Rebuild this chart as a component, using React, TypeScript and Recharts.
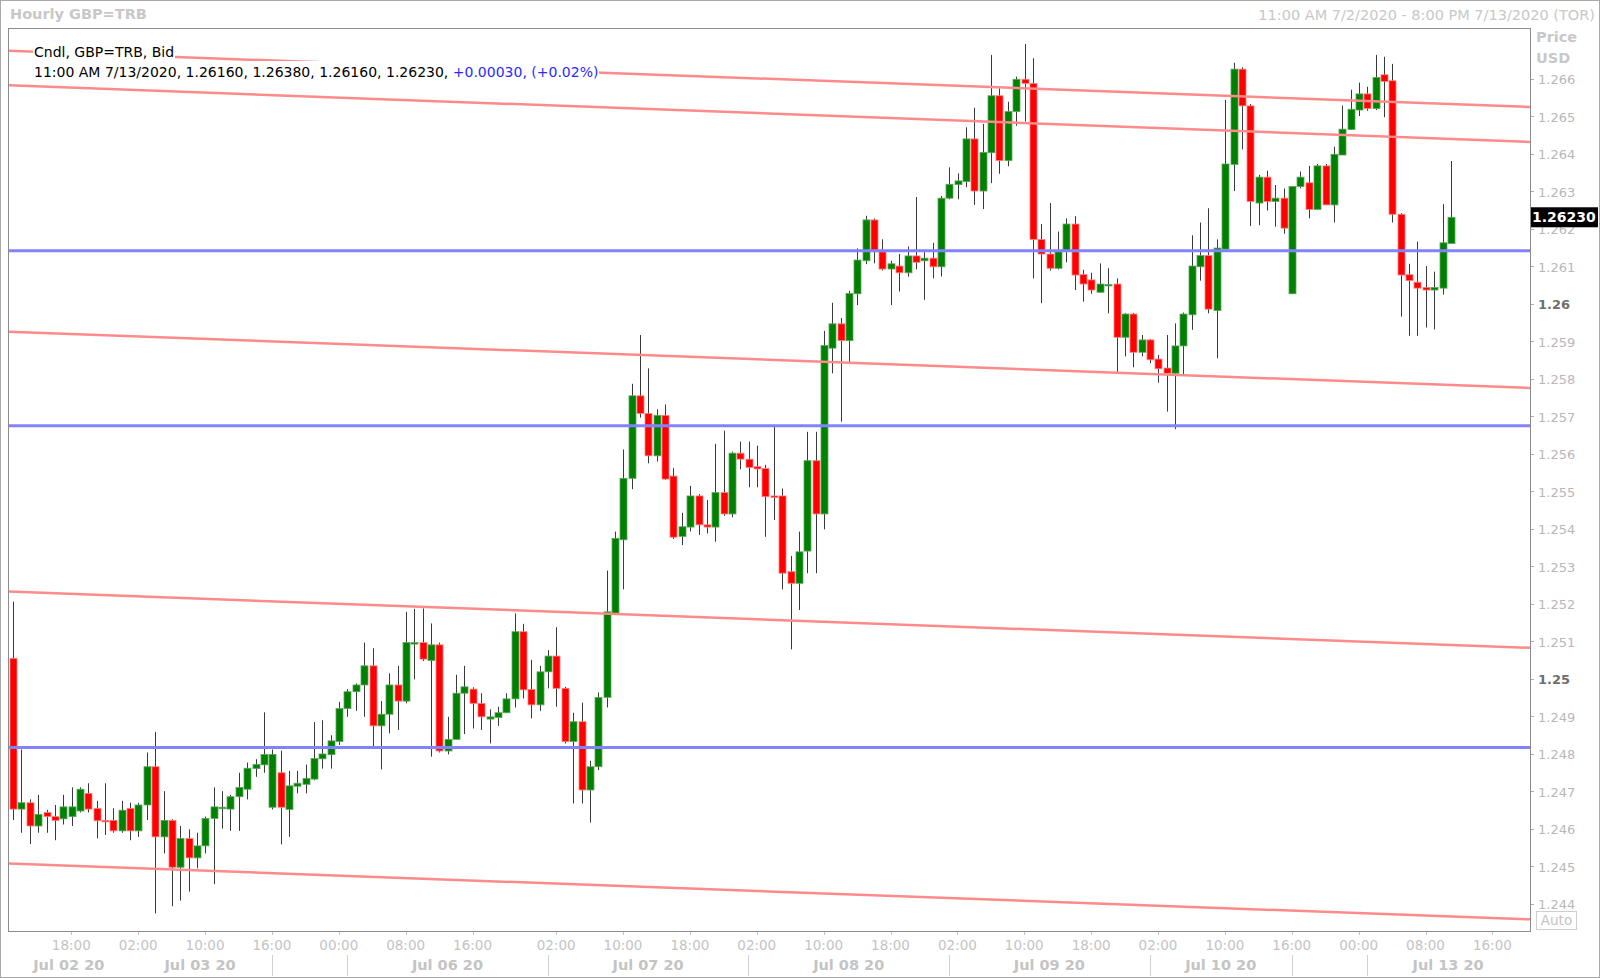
import React from 'react';
import {
  ComposedChart,
  Bar,
  XAxis,
  YAxis,
  ReferenceLine
} from 'recharts';

// hourly GBP=TRB candles, Jul 2 11:00 -> Jul 13 11:00 (trading hours only)
const openPrices = [
  1.25054, 1.24652, 1.24669, 1.24607, 1.24643, 1.24632, 1.24626, 1.24632, 1.24647, 1.24694,
  1.24654, 1.24622, 1.24622, 1.24594, 1.24654, 1.24594, 1.24663, 1.24765, 1.24578, 1.24622,
  1.24497, 1.24574, 1.24522, 1.24554, 1.24627, 1.24657, 1.24652, 1.24685, 1.24705, 1.24760,
  1.24770, 1.24657, 1.24749, 1.24651, 1.24713, 1.24718, 1.24732, 1.24786, 1.24797, 1.24832,
  1.24920, 1.24965, 1.24983, 1.25034, 1.24874, 1.24905, 1.24983, 1.24940, 1.25096, 1.25096,
  1.25048, 1.25090, 1.24807, 1.24838, 1.24961, 1.24972, 1.24934, 1.24892, 1.24896, 1.24909,
  1.24946, 1.25125, 1.24971, 1.24930, 1.25018, 1.25060, 1.24974, 1.24832, 1.24885, 1.24703,
  1.24765, 1.24950, 1.25174, 1.25370, 1.25534, 1.25754, 1.25707, 1.25594, 1.25702, 1.25540,
  1.25379, 1.25404, 1.25487, 1.25410, 1.25404, 1.25496, 1.25439, 1.25601, 1.25585, 1.25565,
  1.25560, 1.25487, 1.25487, 1.25285, 1.25254, 1.25340, 1.25581, 1.25439, 1.25881, 1.25946,
  1.25901, 1.26026, 1.26114, 1.26223, 1.26138, 1.26092, 1.26100, 1.26082, 1.26127, 1.26114,
  1.26121, 1.26098, 1.26281, 1.26317, 1.26325, 1.26439, 1.26300, 1.26402, 1.26554, 1.26381,
  1.26512, 1.26598, 1.26587, 1.26171, 1.26132, 1.26094, 1.26139, 1.26212, 1.26077, 1.26063,
  1.26030, 1.26051, 1.26052, 1.25910, 1.25972, 1.25870, 1.25903, 1.25852, 1.25828, 1.25814,
  1.25887, 1.25970, 1.26098, 1.26128, 1.25981, 1.26145, 1.26371, 1.26625, 1.26527, 1.26268,
  1.26337, 1.26272, 1.26281, 1.26026, 1.26312, 1.26322, 1.26251, 1.26367, 1.26263, 1.26396,
  1.26464, 1.26516, 1.26559, 1.26520, 1.26610, 1.26594, 1.26238, 1.26077, 1.26057, 1.26043,
  1.26036, 1.26041, 1.26160
];

const highPrices = [
  1.25205, 1.24811, 1.24678, 1.24690, 1.24650, 1.24663, 1.24690, 1.24710, 1.24710, 1.24721,
  1.24674, 1.24721, 1.24654, 1.24674, 1.24669, 1.24669, 1.24803, 1.24858, 1.24700, 1.24625,
  1.24607, 1.24598, 1.24589, 1.24632, 1.24710, 1.24700, 1.24690, 1.24749, 1.24776, 1.24785,
  1.24910, 1.24811, 1.24808, 1.24754, 1.24754, 1.24771, 1.24884, 1.24889, 1.24849, 1.24938,
  1.24972, 1.24987, 1.25096, 1.25081, 1.24940, 1.25014, 1.25034, 1.25178, 1.25186, 1.25187,
  1.25147, 1.25096, 1.24898, 1.25010, 1.25034, 1.24977, 1.24961, 1.24918, 1.24925, 1.24961,
  1.25174, 1.25146, 1.25050, 1.25034, 1.25076, 1.25137, 1.24978, 1.24909, 1.24936, 1.24781,
  1.24963, 1.25288, 1.25392, 1.25611, 1.25786, 1.25916, 1.25827, 1.25718, 1.25731, 1.25561,
  1.25442, 1.25514, 1.25492, 1.25476, 1.25626, 1.25661, 1.25605, 1.25632, 1.25632, 1.25621,
  1.25570, 1.25672, 1.25507, 1.25327, 1.25392, 1.25658, 1.25658, 1.25927, 1.26002, 1.25961,
  1.26034, 1.26147, 1.26234, 1.26227, 1.26171, 1.26114, 1.26132, 1.26152, 1.26284, 1.26138,
  1.26162, 1.26287, 1.26363, 1.26347, 1.26470, 1.26522, 1.26479, 1.26663, 1.26574, 1.26538,
  1.26605, 1.26692, 1.26654, 1.26212, 1.26268, 1.26192, 1.26227, 1.26233, 1.26090, 1.26082,
  1.26107, 1.26094, 1.26067, 1.25974, 1.25975, 1.25916, 1.25905, 1.25863, 1.25916, 1.25947,
  1.25976, 1.26182, 1.26216, 1.26254, 1.26171, 1.26543, 1.26642, 1.26630, 1.26532, 1.26343,
  1.26354, 1.26316, 1.26307, 1.26312, 1.26352, 1.26367, 1.26372, 1.26372, 1.26418, 1.26528,
  1.26570, 1.26589, 1.26578, 1.26663, 1.26658, 1.26639, 1.26241, 1.26106, 1.26165, 1.26100,
  1.26085, 1.26265, 1.26380
];

const lowPrices = [
  1.24623, 1.24589, 1.24559, 1.24589, 1.24589, 1.24569, 1.24611, 1.24607, 1.24643, 1.24643,
  1.24574, 1.24583, 1.24589, 1.24589, 1.24569, 1.24578, 1.24623, 1.24374, 1.24534, 1.24393,
  1.24408, 1.24432, 1.24494, 1.24534, 1.24452, 1.24600, 1.24594, 1.24594, 1.24678, 1.24738,
  1.24749, 1.24651, 1.24558, 1.24578, 1.24694, 1.24694, 1.24729, 1.24760, 1.24760, 1.24823,
  1.24898, 1.24914, 1.24898, 1.24818, 1.24758, 1.24854, 1.24863, 1.24934, 1.24998, 1.25047,
  1.24792, 1.24803, 1.24798, 1.24838, 1.24852, 1.24867, 1.24863, 1.24827, 1.24874, 1.24908,
  1.24923, 1.24947, 1.24894, 1.24914, 1.24974, 1.24925, 1.24827, 1.24667, 1.24667, 1.24616,
  1.24756, 1.24923, 1.25174, 1.25238, 1.25505, 1.25696, 1.25574, 1.25579, 1.25530, 1.25372,
  1.25356, 1.25392, 1.25383, 1.25387, 1.25365, 1.25434, 1.25430, 1.25558, 1.25510, 1.25510,
  1.25378, 1.25423, 1.25238, 1.25078, 1.25183, 1.25281, 1.25281, 1.25398, 1.25814, 1.25685,
  1.25841, 1.25996, 1.26105, 1.26107, 1.26088, 1.25996, 1.26032, 1.26072, 1.26091, 1.26010,
  1.26067, 1.26072, 1.26278, 1.26278, 1.26310, 1.26263, 1.26252, 1.26321, 1.26346, 1.26366,
  1.26474, 1.26485, 1.26067, 1.26001, 1.26088, 1.26091, 1.26110, 1.26036, 1.26005, 1.26026,
  1.26030, 1.25974, 1.25818, 1.25859, 1.25830, 1.25859, 1.25841, 1.25789, 1.25712, 1.25665,
  1.25810, 1.25930, 1.26061, 1.25974, 1.25854, 1.26143, 1.26300, 1.26411, 1.26207, 1.26209,
  1.26248, 1.26205, 1.26186, 1.26026, 1.26307, 1.26227, 1.26251, 1.26263, 1.26216, 1.26396,
  1.26463, 1.26500, 1.26514, 1.26516, 1.26497, 1.26216, 1.25965, 1.25914, 1.25914, 1.25936,
  1.25931, 1.26024, 1.26160
];

const closePrices = [
  1.24652, 1.24669, 1.24607, 1.24638, 1.24632, 1.24622, 1.24658, 1.24658, 1.24705, 1.24652,
  1.24621, 1.24621, 1.24594, 1.24649, 1.24594, 1.24663, 1.24765, 1.24578, 1.24622, 1.24497,
  1.24574, 1.24522, 1.24554, 1.24627, 1.24658, 1.24657, 1.24685, 1.24710, 1.24761, 1.24771,
  1.24798, 1.24798, 1.24657, 1.24714, 1.24721, 1.24734, 1.24787, 1.24799, 1.24834, 1.24920,
  1.24965, 1.24983, 1.25034, 1.24874, 1.24905, 1.24983, 1.24940, 1.25096, 1.25096, 1.25052,
  1.25090, 1.24807, 1.24838, 1.24961, 1.24978, 1.24934, 1.24898, 1.24898, 1.24909, 1.24946,
  1.25125, 1.24970, 1.24930, 1.25018, 1.25060, 1.24974, 1.24832, 1.24885, 1.24703, 1.24765,
  1.24950, 1.25178, 1.25374, 1.25534, 1.25754, 1.25707, 1.25594, 1.25702, 1.25532, 1.25377,
  1.25405, 1.25487, 1.25410, 1.25404, 1.25496, 1.25439, 1.25601, 1.25585, 1.25563, 1.25559,
  1.25485, 1.25486, 1.25281, 1.25254, 1.25338, 1.25581, 1.25439, 1.25888, 1.25946, 1.25901,
  1.26027, 1.26116, 1.26223, 1.26138, 1.26092, 1.26106, 1.26082, 1.26127, 1.26110, 1.26121,
  1.26098, 1.26281, 1.26318, 1.26327, 1.26439, 1.26300, 1.26403, 1.26554, 1.26381, 1.26512,
  1.26598, 1.26587, 1.26171, 1.26132, 1.26094, 1.26139, 1.26212, 1.26076, 1.26052, 1.26036,
  1.26052, 1.26051, 1.25910, 1.25972, 1.25870, 1.25903, 1.25850, 1.25826, 1.25814, 1.25887,
  1.25972, 1.26100, 1.26128, 1.25985, 1.26148, 1.26372, 1.26625, 1.26527, 1.26272, 1.26337,
  1.26272, 1.26281, 1.26201, 1.26312, 1.26337, 1.26251, 1.26367, 1.26263, 1.26398, 1.26465,
  1.26518, 1.26559, 1.26520, 1.26603, 1.26592, 1.26238, 1.26076, 1.26061, 1.26041, 1.26036,
  1.26043, 1.26162, 1.26230
];

// drawn trend channel (start / end price across the plot) and horizontal levels
const channelStart = [1.26674, 1.26582, 1.25925, 1.25232, 1.24507];
const channelEnd = [1.26524, 1.26431, 1.25775, 1.25082, 1.24358];
const levelPrices = [1.26141, 1.25674, 1.24816];

const priceTicks = [
  1.244, 1.245, 1.246, 1.247, 1.248, 1.249, 1.25, 1.251, 1.252, 1.253, 1.254, 1.255,
  1.256, 1.257, 1.258, 1.259, 1.26, 1.261, 1.262, 1.263, 1.264, 1.265, 1.266
];
const lastPrice = 1.2623;

// x axis: candle index positions
const hourTickPos = [7, 15, 23, 31, 39, 47, 55, 65, 73, 81, 89, 97, 105, 113, 121, 129, 137, 145, 153, 161, 169, 177];
const hourTickLabels = [
  '18:00', '02:00', '10:00', '16:00', '00:00', '08:00', '16:00', '02:00', '10:00', '18:00', '02:00',
  '10:00', '18:00', '02:00', '10:00', '18:00', '02:00', '10:00', '16:00', '00:00', '08:00', '16:00'
];
const dateLabelPos = [6.7, 22.4, 52, 76, 100, 124, 144.5, 171.7];
const dateLabels = ['Jul 02 20', 'Jul 03 20', 'Jul 06 20', 'Jul 07 20', 'Jul 08 20', 'Jul 09 20', 'Jul 10 20', 'Jul 13 20'];
const daySeparators = [31, 40, 64, 88, 112, 136, 153, 162];

const X_DOMAIN: [number, number] = [-0.45, 181.5];
const Y_DOMAIN: [number, number] = [1.24327, 1.26732];

const candles = openPrices.map((o, k) => ({
  i: k,
  open: o,
  high: highPrices[k],
  low: lowPrices[k],
  close: closePrices[k]
}));

const FONT = '"DejaVu Sans", Verdana, sans-serif';

const CandleShape = (props: any) => {
  const { x, y, width, height, payload } = props;
  if (!payload) return null;
  const top = Math.min(y, y + height);
  const span = Math.abs(height);
  const { open, close, high, low } = payload;
  const k = high > low ? span / (high - low) : 0;
  const py = (v: number) => top + (high - v) * k;
  const up = close >= open;
  const cx = Math.round(x + width / 2) + 0.5;
  const bt = py(Math.max(open, close));
  const bb = py(Math.min(open, close));
  return (
    <g>
      <line x1={cx} x2={cx} y1={top} y2={top + span} stroke="#3a3a3a" strokeWidth={1} />
      <rect
        x={cx - 3.5}
        y={bt}
        width={7}
        height={Math.max(bb - bt, 1.5)}
        fill={up ? '#008000' : '#ff0000'}
        stroke={up ? '#5fa85f' : '#ff8080'}
        strokeWidth={0.8}
      />
    </g>
  );
};

const bottomItems: Record<string, { kind: string; text?: string }[]> = {};
const addItem = (pos: number, kind: string, text?: string) => {
  const key = String(pos);
  if (!bottomItems[key]) bottomItems[key] = [];
  bottomItems[key].push({ kind, text });
};
hourTickPos.forEach((p, k) => addItem(p, 'hour', hourTickLabels[k]));
dateLabelPos.forEach((p, k) => addItem(p, 'date', dateLabels[k]));
daySeparators.forEach(p => addItem(p, 'sep'));
const bottomTicks = Object.keys(bottomItems).map(Number).sort((a, b) => a - b);

const BottomTick = (props: any) => {
  const { x, y, payload } = props;
  const items = bottomItems[String(payload.value)] || [];
  const px = Math.round(x) + 0.5;
  return (
    <g>
      {items.map((it, n) => {
        if (it.kind === 'hour') {
          return (
            <g key={n}>
              <line x1={px} x2={px} y1={y} y2={y + 4} stroke="#c4c4c4" />
              <text x={x} y={y + 19} textAnchor="middle" fill="#c4c4c4" fontSize={13.5} fontFamily={FONT}>
                {it.text}
              </text>
            </g>
          );
        }
        if (it.kind === 'date') {
          return (
            <text key={n} x={x} y={y + 39} textAnchor="middle" fill="#c4c4c4" fontSize={14.5} fontWeight="bold" fontFamily={FONT}>
              {it.text}
            </text>
          );
        }
        return <line key={n} x1={px} x2={px} y1={y + 24} y2={y + 45} stroke="#d0d0d0" />;
      })}
    </g>
  );
};

const PriceTick = (props: any) => {
  const { x, y, payload } = props;
  const v = payload.value as number;
  if (Math.abs(v - lastPrice) < 1e-9) {
    return (
      <g>
        <rect x={x} y={y - 10} width={68} height={20} fill="#000" />
        <text x={x + 2} y={y + 5} fill="#fff" fontSize={14} fontWeight="bold" fontFamily={FONT}>
          {lastPrice.toFixed(5)}
        </text>
      </g>
    );
  }
  const label = String(parseFloat(v.toFixed(3)));
  const major = label.length <= 4;
  const ty = Math.round(y) + 0.5;
  return (
    <g>
      <line x1={x} x2={x + 4} y1={ty} y2={ty} stroke="#b0b0b0" />
      <text
        x={x + 8}
        y={y + 5.5}
        fill={major ? '#6e6e6e' : '#b8b8b8'}
        fontSize={13}
        fontWeight={major ? 'bold' : 'normal'}
        fontFamily={FONT}
      >
        {label}
      </text>
    </g>
  );
};

const grayText: React.CSSProperties = { position: 'absolute', color: '#c8c8c8', fontFamily: FONT, whiteSpace: 'nowrap' };

export default function App() {
  return (
    <div style={{ position: 'absolute', left: 0, top: 0, width: 1600, height: 978, background: '#fff', overflow: 'hidden' }}>
      <div style={{ position: 'absolute', left: 0, top: 0 }}>
        <ComposedChart
          width={1600}
          height={978}
          data={candles}
          margin={{ top: 29, right: 0, bottom: 0, left: 9 }}
        >
          <XAxis
            type="number"
            dataKey="i"
            domain={X_DOMAIN}
            allowDataOverflow
            ticks={bottomTicks}
            interval={0}
            tick={<BottomTick />}
            tickLine={false}
            axisLine={false}
            tickSize={0}
            tickMargin={0}
            height={47}
          />
          <YAxis
            orientation="right"
            type="number"
            domain={Y_DOMAIN}
            allowDataOverflow
            ticks={[...priceTicks, lastPrice]}
            interval={0}
            tick={<PriceTick />}
            tickLine={false}
            axisLine={false}
            tickSize={0}
            tickMargin={0}
            width={70}
          />
          <Bar
            dataKey={(d: any) => [d.low, d.high]}
            barSize={7}
            shape={<CandleShape />}
            isAnimationActive={false}
          />
          {channelStart.map((p, k) => (
            <ReferenceLine
              key={'ch' + k}
              segment={[{ x: X_DOMAIN[0], y: p }, { x: X_DOMAIN[1], y: channelEnd[k] }]}
              stroke="#ff8a8a"
              strokeWidth={2.5}
              ifOverflow="hidden"
            />
          ))}
          {levelPrices.map((p, k) => (
            <ReferenceLine key={'lv' + k} y={p} stroke="#8282ff" strokeWidth={3} />
          ))}
        </ComposedChart>
      </div>

      {/* frames */}
      <div style={{ position: 'absolute', left: 0, top: 0, width: 1600, height: 978, boxSizing: 'border-box', border: '1px solid #a8a8a8', pointerEvents: 'none' }} />
      <div style={{ position: 'absolute', left: 8, top: 28, width: 1523, height: 904, boxSizing: 'border-box', border: '1px solid #8c8c8c', pointerEvents: 'none' }} />

      {/* header */}
      <div style={{ ...grayText, left: 10, top: 6, fontSize: 14.5, fontWeight: 'bold' }}>Hourly GBP=TRB</div>
      <div style={{ ...grayText, right: 5, top: 7, fontSize: 14.5 }}>11:00 AM 7/2/2020 - 8:00 PM 7/13/2020 (TOR)</div>

      {/* legend */}
      <div style={{ position: 'absolute', left: 33, top: 43, fontFamily: FONT, fontSize: 14, lineHeight: '18px', color: '#000', whiteSpace: 'nowrap' }}>
        <div style={{ background: '#fff', width: 'fit-content', padding: '0 1px' }}>Cndl, GBP=TRB, Bid</div>
        <div style={{ background: '#fff', width: 'fit-content', padding: '2px 1px 0 1px' }}>
          11:00 AM 7/13/2020, 1.26160, 1.26380, 1.26160, 1.26230,{' '}
          <span style={{ color: '#2a2aff' }}>+0.00030, (+0.02%)</span>
        </div>
      </div>

      {/* price axis captions */}
      <div style={{ ...grayText, left: 1536, top: 29, fontSize: 14.5, fontWeight: 'bold' }}>Price</div>
      <div style={{ ...grayText, left: 1536, top: 50, fontSize: 14.5, fontWeight: 'bold' }}>USD</div>
      <div style={{ ...grayText, left: 1536, top: 911, width: 41, height: 19, boxSizing: 'border-box', border: '1px solid #cfcfcf', fontSize: 13.5, textAlign: 'center', lineHeight: '17px', color: '#c4c4c4' }}>Auto</div>
    </div>
  );
}
